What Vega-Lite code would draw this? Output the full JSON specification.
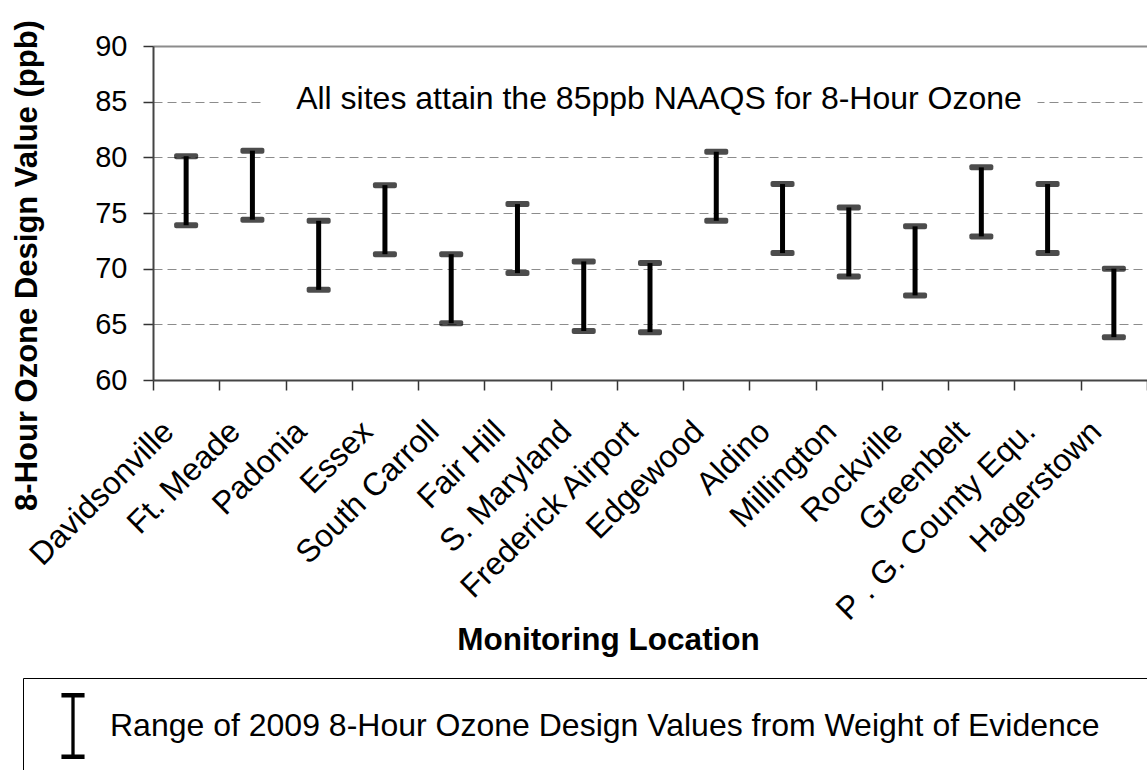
{
  "$schema": "https://vega.github.io/schema/vega-lite/v6.json",
  "autosize": {"type": "none"},
  "width": 994,
  "height": 334,
  "padding": {"left": 153, "top": 46, "right": 0, "bottom": 390},
  "background": "white",
  "config": {
    "font": "Liberation Sans",
    "view": {"stroke": null}
  },
  "data": {
    "values": [
      {"site": "Davidsonville", "low": 73.9, "high": 80.1},
      {"site": "Ft. Meade", "low": 74.4, "high": 80.6},
      {"site": "Padonia", "low": 68.1, "high": 74.3},
      {"site": "Essex", "low": 71.3, "high": 77.5},
      {"site": "South Carroll", "low": 65.1, "high": 71.3},
      {"site": "Fair Hill", "low": 69.6, "high": 75.8},
      {"site": "S. Maryland", "low": 64.4, "high": 70.65},
      {"site": "Frederick Airport", "low": 64.3, "high": 70.5},
      {"site": "Edgewood", "low": 74.3, "high": 80.5},
      {"site": "Aldino", "low": 71.4, "high": 77.6},
      {"site": "Millington", "low": 69.3, "high": 75.5},
      {"site": "Rockville", "low": 67.6, "high": 73.8},
      {"site": "Greenbelt", "low": 72.9, "high": 79.1},
      {"site": "P . G. County Equ.", "low": 71.4, "high": 77.6},
      {"site": "Hagerstown", "low": 63.85, "high": 70.0}
    ]
  },
  "resolve": {"axis": {"x": "independent"}},
  "layer": [
    {
      "mark": {"type": "rule", "strokeWidth": 5},
      "encoding": {
        "x": {
          "field": "site",
          "type": "nominal",
          "sort": null,
          "scale": {"paddingInner": 0, "paddingOuter": 0},
          "axis": {
            "orient": "bottom",
            "title": "Monitoring Location",
            "titleFont": "Liberation Sans",
            "titleFontSize": 31.5,
            "titleFontWeight": "bold",
            "titleColor": "black",
            "titleX": 455,
            "titleY": 269,
            "titleAlign": "center",
            "titleBaseline": "alphabetic",
            "labelAngle": -45,
            "labelAlign": "right",
            "labelBaseline": "middle",
            "labelFontSize": 32,
            "labelColor": "black",
            "labelPadding": 36,
            "labelOffset": -18,
            "labelLimit": 0,
            "labelOverlap": false,
            "tickBand": "extent",
            "tickSize": 10,
            "tickColor": "#333333",
            "tickWidth": 1.5,
            "domainColor": "#444444",
            "domainWidth": 2,
            "grid": false
          }
        },
        "y": {
          "field": "low",
          "type": "quantitative",
          "scale": {"domain": [60, 90], "nice": false, "zero": false},
          "axis": {
            "title": "8-Hour Ozone Design Value (ppb)",
            "titleFont": "Liberation Sans",
            "titleFontSize": 31,
            "titleFontWeight": "bold",
            "titleColor": "black",
            "titleX": -117,
            "titleY": 219,
            "titleAngle": -90,
            "titleAlign": "center",
            "titleBaseline": "alphabetic",
            "values": [60, 65, 70, 75, 80, 85, 90],
            "labelFontSize": 29,
            "labelColor": "black",
            "labelPadding": 16,
            "tickSize": 10,
            "tickColor": "#333333",
            "tickWidth": 1.5,
            "domainColor": "#444444",
            "domainWidth": 2,
            "grid": true,
            "gridColor": "#8c8c8c",
            "gridWidth": 1,
            "gridDash": [9, 5]
          }
        },
        "y2": {"field": "high"},
        "color": {
          "datum": "Range of 2009 8-Hour Ozone Design Values from Weight of Evidence",
          "scale": {"range": ["black"]},
          "legend": {
            "orient": "none",
            "legendX": -130,
            "legendY": 632,
            "title": null,
            "symbolType": "M-0.35,-1H0.35V-0.86H0.05V0.86H0.35V1H-0.35V0.86H-0.05V-0.86H-0.35Z",
            "symbolSize": 4356,
            "symbolOffset": 2,
            "labelOffset": 4,
            "padding": 15,
            "labelFont": "Liberation Sans",
            "labelFontSize": 32,
            "labelColor": "black",
            "labelLimit": 0,
            "labelExpr": "datum.label + '\u2800\u2800'",
            "strokeColor": "black",
            "fillColor": "white",
            "encode": {
              "symbols": {
                "update": {
                  "fill": {"value": "black"},
                  "stroke": {"value": "black"},
                  "strokeWidth": {"value": 0},
                  "opacity": {"value": 1}
                }
              }
            }
          }
        }
      }
    },
    {
      "mark": {"type": "tick", "thickness": 6, "size": 24, "color": "black", "cornerRadius": 2},
      "encoding": {
        "x": {
          "field": "site",
          "type": "nominal",
          "sort": null,
          "axis": {
            "orient": "top",
            "title": null,
            "labels": false,
            "ticks": false,
            "grid": false,
            "domain": true,
            "domainColor": "#8c8c8c",
            "domainWidth": 2
          }
        },
        "y": {"field": "low", "type": "quantitative"}
      }
    },
    {
      "mark": {"type": "tick", "thickness": 6, "size": 24, "color": "black", "cornerRadius": 2},
      "encoding": {
        "x": {"field": "site", "type": "nominal", "sort": null, "axis": null},
        "y": {"field": "high", "type": "quantitative"}
      }
    },
    {
      "data": {"values": [{"note": "All sites attain the 85ppb NAAQS for 8-Hour Ozone"}]},
      "mark": {"type": "rect", "fill": "white", "width": 775},
      "encoding": {
        "x": {"datum": "Frederick Airport", "axis": null},
        "y": {"datum": 84},
        "y2": {"datum": 86}
      }
    },
    {
      "data": {"values": [{"note": "All sites attain the 85ppb NAAQS for 8-Hour Ozone"}]},
      "mark": {"type": "text", "fontSize": 32, "font": "Liberation Sans", "color": "black", "baseline": "alphabetic", "align": "center", "dx": 9, "dy": 7},
      "encoding": {
        "x": {"datum": "Frederick Airport", "axis": null},
        "y": {"datum": 85},
        "text": {"field": "note"}
      }
    }
  ]
}
